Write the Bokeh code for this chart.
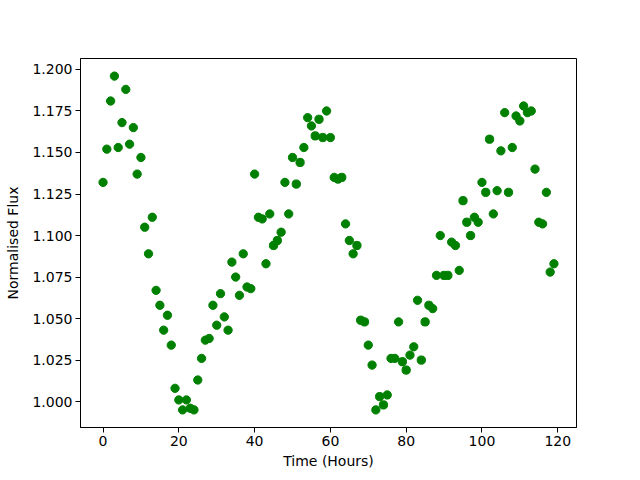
from bokeh.plotting import figure
from bokeh.embed import file_html
from bokeh.resources import INLINE
from bokeh.models import Range1d, FixedTicker, NumeralTickFormatter

hours = list(range(120))
flux = [
    1.132, 1.152, 1.181, 1.196, 1.153, 1.168, 1.188, 1.155, 1.165, 1.137,
    1.147, 1.105, 1.089, 1.111, 1.067, 1.058, 1.043, 1.052, 1.034, 1.008,
    1.001, 0.995, 1.001, 0.996, 0.995, 1.013, 1.026, 1.037, 1.038, 1.058,
    1.046, 1.065, 1.051, 1.043, 1.084, 1.075, 1.064, 1.089, 1.069, 1.068,
    1.137, 1.111, 1.110, 1.083, 1.113, 1.094, 1.097, 1.102, 1.132, 1.113,
    1.147, 1.131, 1.144, 1.153, 1.171, 1.166, 1.160, 1.170, 1.159, 1.175,
    1.159, 1.135, 1.134, 1.135, 1.107, 1.097, 1.089, 1.094, 1.049, 1.048,
    1.034, 1.022, 0.995, 1.003, 0.998, 1.004, 1.026, 1.026, 1.048, 1.024,
    1.019, 1.028, 1.033, 1.061, 1.025, 1.048, 1.058, 1.056, 1.076, 1.100,
    1.076, 1.076, 1.096, 1.094, 1.079, 1.121, 1.108, 1.100, 1.111, 1.108,
    1.132, 1.126, 1.158, 1.113, 1.127, 1.151, 1.174, 1.126, 1.153, 1.172,
    1.169, 1.178, 1.174, 1.175, 1.140, 1.108, 1.107, 1.126, 1.078, 1.083,
]
x_ticks = [0, 20, 40, 60, 80, 100, 120]
y_ticks = [1.000, 1.025, 1.050, 1.075, 1.100, 1.125, 1.150, 1.175, 1.200]

p = figure(frame_width=496, frame_height=369, output_backend="svg",
           toolbar_location=None,
           x_range=Range1d(-5.95, 124.95), y_range=Range1d(0.9844, 1.2066),
           min_border_left=80, min_border_top=58, min_border_right=40,
           min_border_bottom=37)

p.scatter(hours, flux, size=8.3, color="#008000", line_color="#008000")

p.grid.visible = False
p.outline_line_color = "black"
p.outline_line_width = 1
p.background_fill_color = "white"
p.border_fill_color = "white"

p.xaxis.ticker = FixedTicker(ticks=x_ticks)
p.yaxis.ticker = FixedTicker(ticks=y_ticks)
p.yaxis.formatter = NumeralTickFormatter(format="0.000")
p.xaxis.axis_label = "Time (Hours)"
p.yaxis.axis_label = "Normalised Flux"

for ax in (p.xaxis[0], p.yaxis[0]):
    ax.major_tick_in = 0
    ax.major_tick_out = 5
    ax.minor_tick_line_color = None
    ax.major_label_text_font = "DejaVu Sans"
    ax.major_label_text_font_size = "14px"
    ax.major_label_text_color = "black"
    ax.axis_label_text_font = "DejaVu Sans"
    ax.axis_label_text_font_size = "14px"
    ax.axis_label_text_font_style = "normal"
    ax.axis_label_text_color = "black"
    ax.axis_line_color = "black"
    ax.major_tick_line_color = "black"
    ax.major_label_standoff = 3

p.xaxis[0].axis_label_standoff = 4
p.yaxis[0].axis_label_standoff = 8

open("out.html", "w").write(file_html(p, INLINE))
